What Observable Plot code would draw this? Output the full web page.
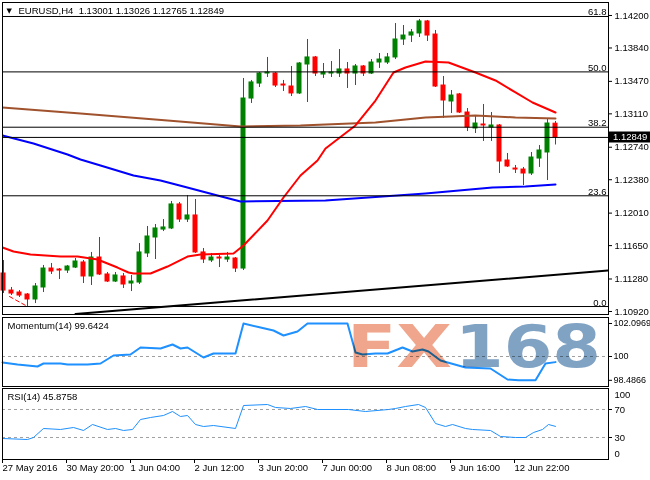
<!DOCTYPE html>
<html><head><meta charset="utf-8">
<script src="https://cdn.jsdelivr.net/npm/d3@7"></script>
<script src="https://cdn.jsdelivr.net/npm/@observablehq/plot@0.6"></script>
<style>
body{margin:0;background:#fff;}
#chart{position:relative;width:650px;height:480px;overflow:hidden;}
#chart svg{position:absolute;left:0;overflow:visible;}
</style></head><body><div id="chart"></div>
<script>
// ---- candles (EURUSD H4) ----
const opens  = [1.11341,1.11152,1.1113,1.11108,1.11053,1.11186,1.11396,1.11385,1.11374,1.11407,1.11463,1.11308,1.11518,1.1133,1.11252,1.11308,1.1123,1.11241,1.11563,1.1174,1.11828,1.1184,1.12106,1.11939,1.11984,1.11574,1.11485,1.11518,1.11496,1.11507,1.11396,1.1328,1.13446,1.13557,1.13557,1.13435,1.13413,1.13336,1.13657,1.13735,1.13546,1.13557,1.13557,1.13602,1.13557,1.13635,1.13557,1.13679,1.13679,1.13735,1.13934,1.13978,1.14001,1.14134,1.13989,1.13424,1.13247,1.13325,1.13125,1.12948,1.12992,1.12959,1.12981,1.12593,1.12504,1.12493,1.12449,1.12615,1.12682,1.13001];
const highs  = [1.11485,1.11186,1.11152,1.11119,1.1123,1.1143,1.11452,1.11396,1.1143,1.11507,1.11485,1.11574,1.1174,1.11352,1.11352,1.11341,1.11319,1.11673,1.11862,1.11884,1.11939,1.12139,1.12128,1.12205,1.12161,1.11618,1.11563,1.1154,1.11574,1.11518,1.13502,1.1348,1.13568,1.13735,1.13568,1.1348,1.13635,1.13679,1.13934,1.13746,1.13668,1.1369,1.13823,1.13679,1.13657,1.13646,1.13712,1.13779,1.13779,1.14111,1.14089,1.14045,1.14156,1.14145,1.14034,1.13524,1.13369,1.13336,1.13169,1.13081,1.13214,1.13125,1.12992,1.12671,1.12538,1.12516,1.12682,1.12759,1.13047,1.13026];
const lows   = [1.11119,1.11097,1.11075,1.10975,1.11008,1.1113,1.1133,1.11274,1.11341,1.11396,1.1123,1.11208,1.11319,1.11241,1.11241,1.11175,1.11141,1.11219,1.11518,1.11496,1.11806,1.11828,1.11906,1.11906,1.11563,1.11452,1.11463,1.11407,1.11463,1.11352,1.11374,1.13225,1.13402,1.13513,1.13402,1.13358,1.13302,1.13325,1.13236,1.13524,1.13502,1.13513,1.13513,1.13391,1.13424,1.13524,1.13546,1.13613,1.13657,1.13712,1.13868,1.13901,1.13956,1.13912,1.13402,1.13059,1.13114,1.13114,1.12914,1.12892,1.12804,1.12804,1.12449,1.12516,1.12449,1.12316,1.12427,1.12516,1.12371,1.12765];
const closes = [1.11152,1.11119,1.11097,1.11053,1.11197,1.11396,1.11363,1.11374,1.11418,1.11474,1.11308,1.11518,1.1133,1.11252,1.11319,1.11219,1.11252,1.11574,1.11751,1.1184,1.11851,1.12106,1.11939,1.11984,1.11574,1.11496,1.11518,1.11507,1.11518,1.11396,1.1328,1.13458,1.13557,1.13568,1.13424,1.13424,1.13336,1.13668,1.13735,1.13557,1.13568,1.13568,1.13602,1.13557,1.13635,1.13557,1.13679,1.13712,1.13735,1.13934,1.13978,1.14012,1.14134,1.13978,1.13413,1.13258,1.13313,1.13125,1.12959,1.13003,1.12981,1.12981,1.12582,1.12527,1.12493,1.12449,1.12626,1.12704,1.13003,1.12849];

// ---- moving averages (bar index, price) ----
const redMaX = [-0.125,1.25,3.375,7.125,9.25,11.75,13,14.25,15.625,16.25,18.375,20.5,23,24.625,28.75,30,33,35,37.125,39.25,40.25,44,46.5,48.75,50.25,52.75,55.625,59,61.5,64,66.125,69];
const redMaY = [1.11629,1.11585,1.11551,1.11529,1.11529,1.11496,1.11452,1.11407,1.11352,1.11341,1.11341,1.11418,1.11529,1.11551,1.11563,1.11651,1.11928,1.12183,1.12427,1.12593,1.12726,1.12981,1.13258,1.13568,1.13624,1.1369,1.13679,1.13568,1.1348,1.13347,1.13236,1.13125];
const brownMaX = [-0.125,9.625,20.5,29.625,37.125,46.5,52.75,59,64,69];
const brownMaY = [1.1318,1.13114,1.13036,1.1297,1.12981,1.13014,1.1307,1.13092,1.1307,1.13059];
const blueMaX = [-0.125,3.75,8,9.625,12.125,16.25,19.625,22.5,26.75,29.625,40.25,52.75,61.125,65.25,69];
const blueMaY = [1.1287,1.12782,1.1266,1.12604,1.12538,1.12427,1.12371,1.12305,1.12205,1.12139,1.1215,1.12227,1.12294,1.12305,1.12327];
const trendX = [9,75.625];
const trendY = [1.10892,1.11374];
const fibLineX = [0.75,3];
const fibLineY = [1.11086,1.10975];

// ---- levels & ticks ----
const fibLevels = [1.10975,1.12202,1.12962,1.13575,1.14189];
const fibNames  = ["0.0","23.6","38.2","50.0","61.8"];
const lastPrice = 1.12849;
const priceTicks = [1.14200,1.13840,1.13470,1.13110,1.12740,1.12380,1.12010,1.11650,1.11280,1.10920];
const timeTickIdx = [0,8,16,24,32,40,48,56,64];
const timeTickLabels = ["27 May 2016","30 May 20:00","1 Jun 04:00","2 Jun 12:00","3 Jun 20:00","7 Jun 00:00","8 Jun 08:00","9 Jun 16:00","12 Jun 22:00"];
const titleText = "EURUSD,H4  1.13001 1.13026 1.12765 1.12849";

// ---- indicators ----
const momX = [-0.125,1.75,3,4.25,5,7.125,8,10.5,12.125,13.75,15.875,17.125,19.625,21.125,22.125,23,25,26.25,29,30,32.125,33.75,35,36.75,38,40.25,43,44,44.875,46.5,48,49.875,51.125,52.375,53.125,54.625,57.75,60.875,63,64.375,66.5,67.75,69];
const momY = [99.619,99.492,99.428,99.365,99.555,99.555,99.492,99.492,99.555,100.064,100.127,100.572,100.508,100.762,100.508,100.572,99.936,100.191,100.191,102.0969,101.842,101.652,101.334,101.588,102.0969,102.0969,102.0969,100.254,100.127,100.191,100.191,100.572,100.318,100.445,100.318,99.746,99.301,99.238,98.539,98.4866,98.4866,99.555,99.6424];
const momTicks = [102.0969,100,98.4866];
const rsiX = [-0.125,3,3.75,5,7.125,8.75,10,11.125,13,14,15,16.125,17.125,18.375,20,21.125,22.125,23,24,25,26.25,29,30,33,34,35.875,37.75,39.25,43.125,45.25,48.125,49,50.25,51.875,52.75,54,55.25,56.125,57.75,58.625,60.875,62.125,64,65.25,66.25,67.375,68.125,69];
const rsiY = [28.57,27.14,30.0,42.86,41.43,44.29,40.0,48.57,41.43,42.86,40.0,41.43,55.71,58.57,61.43,67.14,60.0,61.43,48.57,45.71,47.14,42.86,75.71,77.14,72.86,71.43,74.29,70.0,70.0,67.14,70.0,71.43,74.29,77.14,72.86,50.0,45.71,48.57,42.86,41.43,40.0,31.43,30.0,30.0,37.14,41.43,48.57,45.8758];

// ---- build tables ----
const candles = opens.map((o,i)=>({i, o, h:highs[i], l:lows[i], c:closes[i]}));
const ups = candles.filter(d=>d.c>=d.o), downs = candles.filter(d=>d.c<d.o);
const pts = (xs,ys)=>xs.map((x,k)=>({x, y:ys[k]}));
const fibs = fibLevels.map((p,k)=>({p, name:fibNames[k]}));

const FONT = "'Liberation Sans', Arial, sans-serif";
const style = {fontFamily: FONT, fontSize: "9.5px", background: "none", overflow: "visible", color: "black"};
const xDomain = [-0.125, 75.625];
const GREEN = "#008000", RED = "#ff0000";

const candleMarks = (data, color) => [
  Plot.ruleX(data, {x:"i", y1:"l", y2:"h", stroke: color}),
  Plot.rect(data, {x1: d=>d.i-0.25, x2: d=>d.i+0.25, y1:"o", y2:"c", fill: color, stroke: color, strokeWidth: 1})
];

const main = Plot.plot({
  width: 650, height: 316, marginTop: 2, marginBottom: 2, marginLeft: 2, marginRight: 42,
  style,
  x: {domain: xDomain, axis: null},
  y: {domain: [1.108866, 1.14344]},
  marks: [
    ...candleMarks(ups, GREEN),
    ...candleMarks(downs, RED),
    Plot.line(pts(blueMaX, blueMaY), {x:"x", y:"y", stroke:"#0000ff", strokeWidth:2, clip:true}),
    Plot.line(pts(brownMaX, brownMaY), {x:"x", y:"y", stroke:"#a0522d", strokeWidth:2, clip:true}),
    Plot.line(pts(redMaX, redMaY), {x:"x", y:"y", stroke:"#ff0000", strokeWidth:2, clip:true}),
    Plot.line(pts(trendX, trendY), {x:"x", y:"y", stroke:"#000", strokeWidth:2, clip:true}),
    Plot.line(pts(fibLineX, fibLineY), {x:"x", y:"y", stroke:"#ff0000", strokeWidth:1, strokeDasharray:"4,3", clip:true}),
    Plot.ruleY(fibs, {y:"p", stroke:"#000"}),
    Plot.ruleY([lastPrice], {stroke:"#000"}),
    Plot.text(fibs, {y:"p", text:"name", frameAnchor:"right", textAnchor:"end", lineAnchor:"bottom", dx:-2, dy:-1, fill:"#000"}),
    Plot.axisY(priceTicks, {anchor:"right", label:null, tickSize:3, tickPadding:3, tickFormat: d=>d.toFixed(5)}),
    Plot.text(["▼"], {frameAnchor:"top-left", textAnchor:"start", lineAnchor:"middle", dx:4, dy:8.5, fontSize:7, fontFamily:"DejaVu Sans", fill:"#000"}),
    Plot.text([titleText], {frameAnchor:"top-left", textAnchor:"start", lineAnchor:"top", dx:16, dy:5, fill:"#000"}),
    Plot.frame({stroke:"#000"})
  ]
});
main.style.top = "0px";

const mom = Plot.plot({
  width: 650, height: 74, marginTop: 3, marginBottom: 2, marginLeft: 2, marginRight: 42,
  style,
  x: {domain: xDomain, axis: null},
  y: {domain: [98.094, 102.478]},
  marks: [
    Plot.ruleY([100], {stroke:"#a0a0a0", strokeDasharray:"3,3"}),
    Plot.line(pts(momX, momY), {x:"x", y:"y", stroke:"#1e90ff", strokeWidth:2}),
    Plot.axisY(momTicks, {anchor:"right", label:null, tickSize:3, tickPadding:2, fontSize:9, tickFormat: d=>String(d)}),
    Plot.text(["Momentum(14) 99.6424"], {frameAnchor:"top-left", textAnchor:"start", lineAnchor:"top", dx:5, dy:5, fill:"#000"}),
    Plot.frame({stroke:"#000"})
  ]
});
mom.style.top = "314px";

const rsi = Plot.plot({
  width: 650, height: 94, marginTop: 2, marginBottom: 21, marginLeft: 2, marginRight: 42,
  style,
  x: {domain: xDomain},
  y: {domain: [-1.43, 100]},
  marks: [
    Plot.ruleY([70, 30], {stroke:"#a0a0a0", strokeDasharray:"3,3"}),
    Plot.line(pts(rsiX, rsiY), {x:"x", y:"y", stroke:"#1e90ff", strokeWidth:1}),
    Plot.axisY([70, 30], {anchor:"right", label:null, tickSize:3, tickPadding:3}),
    Plot.text([100], {y: d=>d, text: d=>String(d), frameAnchor:"right", textAnchor:"start", dx:6, dy:6, fill:"#000"}),
    Plot.text([0], {y: d=>d, text: d=>String(d), frameAnchor:"right", textAnchor:"start", dx:6, dy:-5, fill:"#000"}),
    Plot.axisX(timeTickIdx, {anchor:"bottom", label:null, tickSize:4, tickPadding:1, textAnchor:"start", dx:-1, tickFormat: i => timeTickLabels[timeTickIdx.indexOf(i)]}),
    Plot.text(["RSI(14) 45.8758"], {frameAnchor:"top-left", textAnchor:"start", lineAnchor:"top", dx:5, dy:5, fill:"#000"}),
    Plot.frame({stroke:"#000"})
  ]
});
rsi.style.top = "386px";

const root = document.getElementById("chart");
root.append(main, mom, rsi);

// last price label box on the price axis
const yp = main.scale("y").apply(lastPrice);
const gm = d3.select(main).append("g").attr("text-anchor", "start");
gm.append("rect").attr("x", 609).attr("y", Math.round(yp) - 5.5).attr("width", 41).attr("height", 11).attr("fill", "#000");
gm.append("text").attr("x", 613).attr("y", yp + 3.5).attr("fill", "#fff").attr("text-anchor", "start")
  .attr("font-family", FONT).attr("font-size", "9.5px").text(lastPrice.toFixed(5));

// FX168 watermark
const wm = d3.select(mom).append("g").attr("text-anchor", "start").style("mix-blend-mode", "multiply");
wm.append("text").attr("x", 347).attr("y", 53).attr("text-anchor", "start").attr("font-family", "DejaVu Sans").attr("font-weight", "bold")
  .attr("font-size", 58).attr("textLength", 105).attr("lengthAdjust", "spacingAndGlyphs").attr("fill", "#efa68c").text("FX");
wm.append("text").attr("x", 455).attr("y", 53).attr("text-anchor", "start").attr("font-family", "DejaVu Sans").attr("font-weight", "bold")
  .attr("font-size", 58).attr("textLength", 146).attr("lengthAdjust", "spacingAndGlyphs").attr("fill", "#80a2c3").text("168");
</script></body></html>
